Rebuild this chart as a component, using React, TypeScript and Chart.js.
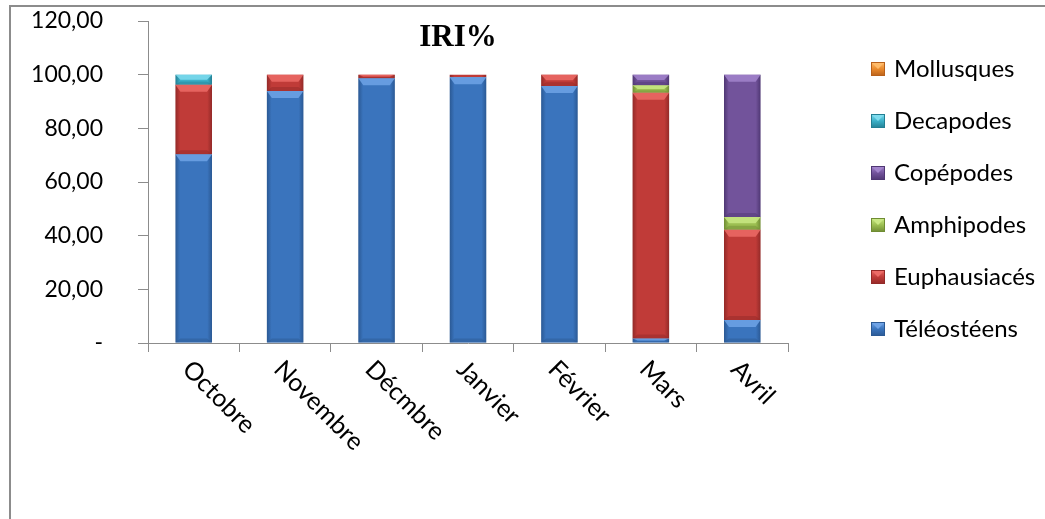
import { useEffect, useRef } from "react";
import { Chart, registerables } from "chart.js";

Chart.register(...registerables);

// Months on the category axis
const months = ["Octobre", "Novembre", "Décmbre", "Janvier", "Février", "Mars", "Avril"];

// IRI% per prey group, stacked from the bottom up
const teleosteens = [70.3, 93.9, 98.7, 99.0, 95.8, 1.7, 8.6];
const euphausiaces = [25.9, 6.1, 1.3, 1.0, 4.2, 91.6, 33.6];
const amphipodes = [0, 0, 0, 0, 0, 2.8, 4.8];
const copepodes = [0, 0, 0, 0, 0, 3.9, 53.0];
const decapodes = [3.8, 0, 0, 0, 0, 0, 0];
const mollusques = [0, 0, 0, 0, 0, 0, 0];

const seriesNames = ["Téléostéens", "Euphausiacés", "Amphipodes", "Copépodes", "Decapodes", "Mollusques"];
const seriesValues = [teleosteens, euphausiaces, amphipodes, copepodes, decapodes, mollusques];

const yTickValues = [0, 20, 40, 60, 80, 100, 120];

// [edge, body, highlight] for each group
const palette: [string, string, string][] = [
  ["#2b5994", "#3a74bd", "#6fa3e6"],
  ["#932a28", "#c03b38", "#ec6b66"],
  ["#6f8c33", "#9cbf52", "#c9e884"],
  ["#4f3773", "#72539b", "#a284cc"],
  ["#237f93", "#3bb0c8", "#7fdcee"],
  ["#b8601a", "#ea8a2c", "#ffbb6a"],
];

const FONT = "Lato, 'Open Sans', sans-serif";
const TEXT_SIZE = 23;
const BAR_FRACTION = 0.4;

function barFill(idx: number) {
  const [edge, body] = palette[idx];
  return (ctx: any) => {
    const chart = ctx.chart;
    const xs = chart.scales?.x;
    if (!chart.chartArea || !xs || ctx.type !== "data") return body;
    const cx = xs.getPixelForValue(ctx.dataIndex);
    const half = (xs.width / months.length) * BAR_FRACTION / 2;
    const g = chart.ctx.createLinearGradient(cx - half, 0, cx + half, 0);
    g.addColorStop(0, edge);
    g.addColorStop(0.13, body);
    g.addColorStop(0.87, body);
    g.addColorStop(1, edge);
    return g;
  };
}

const decorPlugin = {
  id: "decor",
  beforeDraw(chart: any) {
    const ctx = chart.ctx;
    ctx.save();
    ctx.strokeStyle = "#8c8c8c";
    ctx.lineWidth = 2;
    ctx.beginPath();
    ctx.moveTo(10, 519);
    ctx.lineTo(10, 6);
    ctx.lineTo(1045, 6);
    ctx.stroke();
    ctx.restore();
  },
  afterDatasetsDraw(chart: any) {
    const ctx = chart.ctx;
    ctx.save();
    chart.data.datasets.forEach((ds: any, di: number) => {
      const meta = chart.getDatasetMeta(di);
      const [edge, , light] = palette[di];
      meta.data.forEach((bar: any) => {
        const top = Math.min(bar.y, bar.base);
        const bottom = Math.max(bar.y, bar.base);
        const h = bottom - top;
        if (h < 3) return;
        const left = bar.x - bar.width / 2;
        const right = bar.x + bar.width / 2;
        const bev = Math.min(7, h / 2);
        // top bevel highlight
        ctx.globalAlpha = 0.85;
        ctx.fillStyle = light;
        ctx.beginPath();
        ctx.moveTo(left, top);
        ctx.lineTo(right, top);
        ctx.lineTo(right - 5, top + bev);
        ctx.lineTo(left + 5, top + bev);
        ctx.closePath();
        ctx.fill();
        // bottom bevel shade
        ctx.globalAlpha = 0.5;
        ctx.fillStyle = edge;
        ctx.beginPath();
        ctx.moveTo(left, bottom);
        ctx.lineTo(right, bottom);
        ctx.lineTo(right - 5, bottom - Math.min(4, h / 3));
        ctx.lineTo(left + 5, bottom - Math.min(4, h / 3));
        ctx.closePath();
        ctx.fill();
      });
    });
    ctx.restore();
  },
  afterDraw(chart: any) {
    const ctx = chart.ctx;
    const xs = chart.scales.x;
    ctx.save();

    // title
    ctx.fillStyle = "#000";
    ctx.font = "bold 31px 'Liberation Serif', 'Times New Roman', serif";
    ctx.textAlign = "center";
    ctx.textBaseline = "middle";
    ctx.fillText("IRI%", 458, 38);

    // slanted month labels
    ctx.font = `25px ${FONT}`;
    ctx.textAlign = "left";
    ctx.textBaseline = "middle";
    months.forEach((m, i) => {
      const cx = xs.getPixelForValue(i);
      ctx.save();
      ctx.translate(cx - 7, 365);
      ctx.rotate(Math.PI / 4);
      ctx.fillText(m, 0, 0);
      ctx.restore();
    });

    // legend, top entry is the last series
    const order = seriesNames.map((_, i) => i).reverse();
    order.forEach((si, row) => {
      const cy = 69 + row * 52;
      const [edge, body, light] = palette[si];
      const bx = 871, by = cy - 7, s = 14;
      const g = ctx.createLinearGradient(0, by, 0, by + s);
      g.addColorStop(0, light);
      g.addColorStop(0.5, body);
      g.addColorStop(1, edge);
      ctx.fillStyle = g;
      ctx.fillRect(bx, by, s, s);
      ctx.fillStyle = light;
      ctx.beginPath();
      ctx.moveTo(bx, by);
      ctx.lineTo(bx + s, by);
      ctx.lineTo(bx + s / 2, by + s / 2);
      ctx.closePath();
      ctx.fill();
      ctx.strokeStyle = edge;
      ctx.lineWidth = 1;
      ctx.strokeRect(bx + 0.5, by + 0.5, s - 1, s - 1);
      ctx.fillStyle = "#000";
      ctx.font = `24px ${FONT}`;
      ctx.textAlign = "left";
      ctx.textBaseline = "middle";
      ctx.fillText(seriesNames[si], 894, cy);
    });

    ctx.restore();
  },
};

export default function App() {
  const canvasRef = useRef<HTMLCanvasElement | null>(null);

  useEffect(() => {
    if (!canvasRef.current) return;
    const chart = new Chart(canvasRef.current, {
      type: "bar",
      data: {
        labels: months,
        datasets: seriesNames.map((name, i) => ({
          label: name,
          data: seriesValues[i],
          backgroundColor: barFill(i),
          borderWidth: 0,
          categoryPercentage: 0.8,
          barPercentage: 0.5,
        })),
      },
      options: {
        responsive: false,
        animation: false,
        layout: { padding: { left: 0, top: 21, right: 257, bottom: 167 } },
        plugins: {
          legend: { display: false },
          title: { display: false },
          tooltip: { enabled: false },
        },
        scales: {
          x: {
            stacked: true,
            grid: {
              display: true,
              drawOnChartArea: false,
              drawTicks: true,
              tickLength: 9,
              color: "#8c8c8c",
            },
            border: { display: true, color: "#8c8c8c", width: 1 },
            ticks: { display: false },
          },
          y: {
            stacked: true,
            min: 0,
            max: 120,
            afterBuildTicks: (scale: any) => {
              scale.ticks = yTickValues.map((v) => ({ value: v }));
            },
            afterFit: (scale: any) => {
              scale.width = 148;
              scale.paddingTop = 0;
              scale.paddingBottom = 0;
            },
            grid: {
              display: true,
              drawOnChartArea: false,
              drawTicks: true,
              tickLength: 10,
              color: "#8c8c8c",
            },
            border: { display: true, color: "#8c8c8c", width: 1 },
            ticks: {
              padding: 35,
              color: "#000",
              font: { family: FONT, size: TEXT_SIZE },
              callback: (v: any) => (Number(v) === 0 ? "-" : Number(v).toFixed(2).replace(".", ",")),
            },
          },
        },
      },
      plugins: [decorPlugin],
    });
    return () => chart.destroy();
  }, []);

  return (
    <div style={{ position: "absolute", left: 0, top: 0, width: 1045, height: 519, background: "#fff" }}>
      <canvas ref={canvasRef} width={1045} height={519} style={{ display: "block" }} />
    </div>
  );
}
